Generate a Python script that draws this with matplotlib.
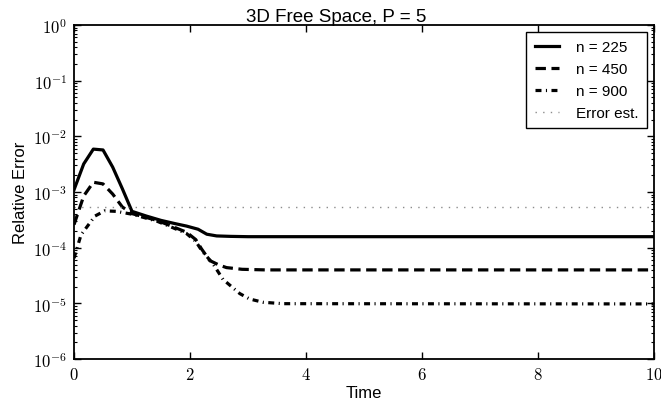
#!/usr/bin/env python3

import numpy as np
import matplotlib
matplotlib.use("Agg")
import matplotlib.pyplot as plt
from matplotlib.ticker import FuncFormatter, LogLocator


# values
t_225 = [0.0, 0.167, 0.333, 0.5, 0.667, 0.833, 1.0, 1.25, 1.5, 1.75, 1.94,
         2.14, 2.29, 2.46, 2.7, 3.0, 10.0]
err_225 = [1.1e-3, 3.2e-3, 5.9e-3, 5.7e-3, 2.8e-3, 1.15e-3, 4.5e-4, 3.7e-4,
           3.1e-4, 2.7e-4, 2.45e-4, 2.15e-4, 1.75e-4, 1.63e-4, 1.6e-4,
           1.58e-4, 1.58e-4]

t_450 = [0.0, 0.167, 0.333, 0.5, 0.667, 0.833, 1.0, 1.2, 1.43, 1.7, 1.94,
         2.1, 2.2, 2.34, 2.5, 2.63, 2.9, 3.3, 10.0]
err_450 = [2.6e-4, 8.5e-4, 1.5e-3, 1.4e-3, 9.2e-4, 5.4e-4, 4.1e-4, 3.6e-4,
           3.1e-4, 2.4e-4, 1.9e-4, 1.4e-4, 9.5e-5, 5.9e-5, 4.9e-5, 4.4e-5,
           4.1e-5, 4.0e-5, 4.0e-5]

t_900 = [0.0, 0.12, 0.36, 0.53, 0.73, 1.0, 1.2, 1.43, 1.7, 1.94, 2.1, 2.2,
         2.4, 2.57, 2.86, 3.03, 3.26, 3.6, 10.0]
err_900 = [6.5e-5, 1.7e-4, 3.7e-4, 4.6e-4, 4.5e-4, 4.0e-4, 3.5e-4, 3.0e-4,
           2.3e-4, 1.8e-4, 1.3e-4, 9.0e-5, 5.1e-5, 2.7e-5, 1.5e-5, 1.2e-5,
           1.05e-5, 9.9e-6, 9.8e-6]

err_est = 5.5e-4

plt.rcParams["mathtext.fontset"] = "cm"
plt.rcParams["font.family"] = ["Liberation Sans", "DejaVu Sans"]
plt.rcParams["lines.scale_dashes"] = False

fig = plt.figure(figsize=(6.61, 4.06), dpi=100)
ax = fig.add_axes([0.112, 0.113, 0.877, 0.823])

ax.plot(t_225, err_225, color="black", lw=2.3, label="n = 225")
ax.plot(t_450, err_450, color="black", lw=2.3, dashes=(7.5, 4.0), label="n = 450")
ax.plot(t_900, err_900, color="black", lw=2.3, dashes=(4.3, 3.2, 0.8, 3.2),
        label="n = 900")
ax.plot([0, 10], [err_est, err_est], color="0.55", lw=1.0, dashes=(1.0, 4.5),
        label="Error est.")

ax.set_yscale("log")
ax.set_xlim(0, 10)
ax.set_ylim(1e-6, 1e0)
ax.set_xticks([0, 2, 4, 6, 8, 10])
ax.xaxis.set_major_formatter(FuncFormatter(lambda v, p: r"$%d$" % v))
ax.yaxis.set_major_locator(LogLocator(base=10, numticks=10))
ax.yaxis.set_minor_locator(LogLocator(base=10, subs=np.arange(2, 10), numticks=20))
ax.yaxis.set_major_formatter(FuncFormatter(lambda v, p: r"$10^{%d}$" % round(np.log10(v))))

ax.tick_params(which="both", direction="in", top=True, right=True, labelsize=12)
ax.tick_params(which="major", length=5, width=1)
ax.tick_params(which="minor", length=2.5, width=0.8)
ax.tick_params(axis="x", pad=5)
ax.tick_params(axis="y", pad=5)
for sp in ax.spines.values():
    sp.set_linewidth(1.3)

ax.set_xlabel("Time", fontsize=12, labelpad=2)
ax.set_ylabel("Relative Error", fontsize=12, labelpad=4)
ax.set_title("3D Free Space, P = 5", fontsize=13.5, pad=3, x=0.452)

leg = ax.legend(loc="upper right", fontsize=11, fancybox=False, framealpha=1,
                edgecolor="black", handlelength=1.6, handletextpad=1.1,
                labelspacing=0.52, borderpad=0.55, borderaxespad=0.45)
leg.get_frame().set_linewidth(1.0)

fig.savefig("out.png", dpi=100)
